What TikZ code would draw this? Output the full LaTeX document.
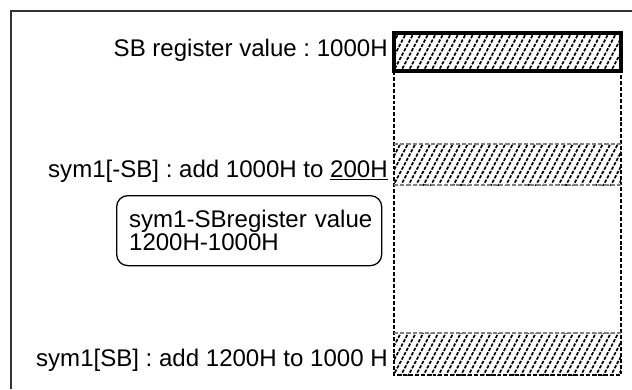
\documentclass[tikz,border=0pt]{standalone}
\usepackage{fontspec}
\setmainfont{Liberation Sans}
\frenchspacing
\begin{document}
\begin{tikzpicture}[x=0.025cm,y=-0.025cm,
  hatch/.style={line width=1.2pt, dash pattern=on 2.4pt off 1.1pt},
  colline/.style={line width=1.2pt, dash pattern=on 2.8pt off 1.4pt},
  bandline/.style={line width=0.9pt, black!50, dash pattern=on 3pt off 1.4pt},
  lbl/.style={inner sep=0pt, font=\fontsize{17.1pt}{16.6pt}\selectfont}]

\useasboundingbox (0,0) rectangle (632,389);

% frame
\draw[line width=1.1pt, black!80] (11,389) -- (11,11) -- (640,11);

% hatched bands
\foreach \t/\b in {33/71,144/185,333/375}{
  \begin{scope}
    \clip (394,\t) rectangle (621,\b);
    \foreach \x in {340,347.5,...,630}
      \draw[hatch] (\x,\b+2) -- ++(26,-49);
  \end{scope}
}

% column
\draw[colline] (394,71) -- (394,375) -- (621,375) -- (621,71);
\draw[bandline] (394,144) -- (621,144);
\draw[bandline] (394,185) -- (621,185);
\draw[bandline] (394,333) -- (621,333);
\draw[line width=2.2pt] (394,33) rectangle (621,71);

\node[lbl, anchor=base east] (v1) at (388,56) {SB register value : 1000H};
\node[lbl, anchor=base east] (v2) at (388,177) {sym1[-SB] : add 1000H to \underline{200H}};
\node[lbl, anchor=base east] (v4) at (388,366) {sym1[SB] : add 1200H to 1000 H};

\node[lbl, draw, line width=0.9pt, rounded corners=8pt, anchor=north west,
  minimum width=6.625cm, minimum height=1.75cm, inner xsep=0.3cm,
  text width=6.0cm, align=left] (v3) at (116,195)
  {\mbox{sym1-SBregister value}\\1200H-1000H};
\end{tikzpicture}
\end{document}
